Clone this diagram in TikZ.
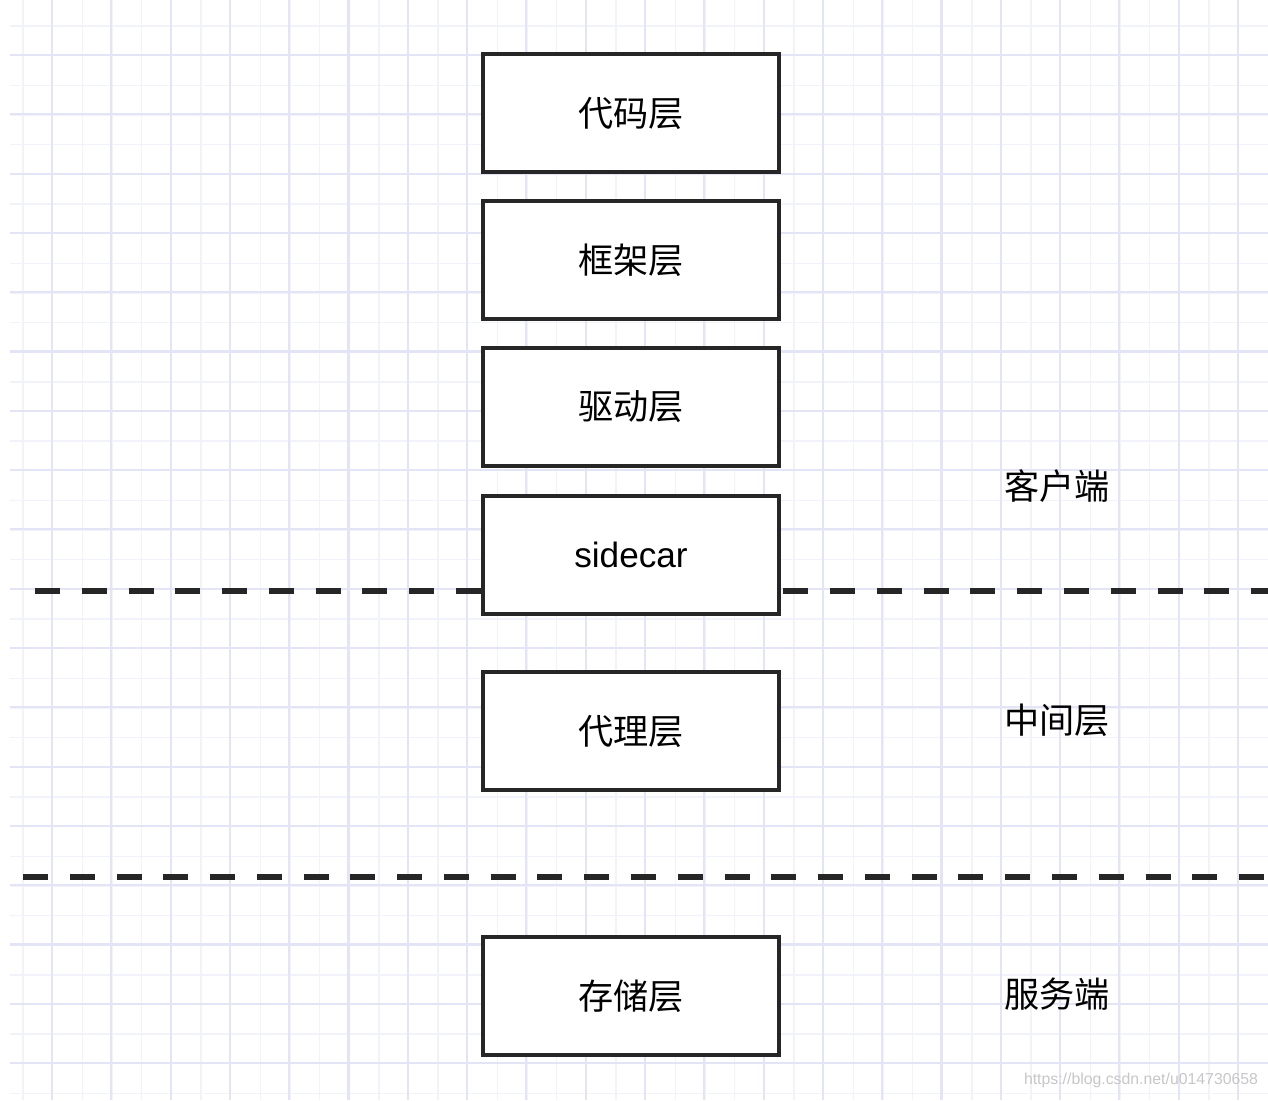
\documentclass[tikz,border=0pt]{standalone}
\usepackage{fontspec}
\setmainfont{Liberation Sans}
\newfontfamily\cjk{Noto Sans CJK SC}
\usetikzlibrary{positioning}
\definecolor{gridmajor}{RGB}{228,228,247}
\definecolor{gridminor}{RGB}{242,242,250}
\definecolor{boxline}{RGB}{38,38,38}
\newcommand{\divider}[2]
{
	\draw[sep] (#1) -- (#2)
}

\begin{document}
\begin{tikzpicture}[x=0.01cm, y=-0.01cm,
			layer/.style={shape=rectangle,
				draw=boxline,
				fill=white,
				line width=1.1pt,
				minimum width=2.95cm,
				minimum height=1.18cm,
				font=\fontsize{10}{12}\selectfont},
			side/.style={font=\fontsize{10}{12}\selectfont\cjk},
			sep/.style={draw=boxline, line width=1.5pt, dash pattern=on 7.1pt off 6.2pt},
			watermark/.style={text=black!22, font=\fontsize{4.5}{5}\selectfont}]

			\useasboundingbox (0,0) rectangle (1268,1100);
			\fill[white] (0,0) rectangle (1268,1100);

			% grid paper
			\foreach \gx in {23,52.65,...,1268}
				\draw[gridminor, line width=0.4pt] (\gx,0) -- (\gx,1100);
			\foreach \gy in {26,55.65,...,1100}
				\draw[gridminor, line width=0.4pt] (10,\gy) -- (1268,\gy);
			\foreach \gx in {52,111.3,...,1268}
				\draw[gridmajor, line width=0.6pt] (\gx,0) -- (\gx,1100);
			\foreach \gy in {55,114.3,...,1100}
				\draw[gridmajor, line width=0.6pt] (10,\gy) -- (1268,\gy);

			% dividers
			\coordinate (cut1w) at (35,591);
			\coordinate (cut1e) at (1268,591);
			\coordinate (cut2w) at (23,877);
			\coordinate (cut2e) at (1268,877);
			\divider{cut1w}{cut1e};
			\divider{cut2w}{cut2e};

			\node[layer] at (631, 113) (code){\cjk 代码层};
			\node[layer] at (631, 260) (frame){\cjk 框架层};
			\node[layer] at (631, 407) (driver){\cjk 驱动层};
			\node[layer] at (631, 555) (sidecar){sidecar};
			\node[layer] at (631, 731) (proxy){\cjk 代理层};
			\node[layer] at (631, 996) (storage){\cjk 存储层};

			\node[side] at (1057, 486) (client){客户端};
			\node[side] at (1057, 720) (middle){中间层};
			\node[side] at (1057, 994) (server){服务端};

			\node[watermark] at (1141, 1080) (url){https://blog.csdn.net/u014730658};
		\end{tikzpicture}
\end{document}
